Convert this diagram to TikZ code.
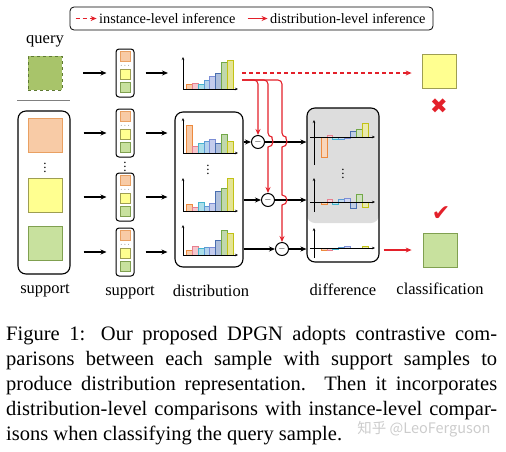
\documentclass[tikz,border=0pt]{standalone}
\usepackage{fontspec}
\setmainfont{Liberation Serif}
\newfontfamily\cjkfont{Noto Sans CJK SC}
\newfontfamily\symfont{DejaVu Sans}
\usetikzlibrary{arrows.meta}

\definecolor{dpred}{HTML}{E3202A}
\definecolor{orgF}{HTML}{F8CBA6}
\definecolor{orgD}{HTML}{E9A062}
\definecolor{yelF}{HTML}{FFFF90}
\definecolor{yelD}{HTML}{9E9E52}
\definecolor{grnF}{HTML}{C8E19E}
\definecolor{grnD}{HTML}{80A050}
\definecolor{qryF}{HTML}{A8C46A}
\definecolor{qryD}{HTML}{5F7A32}
\definecolor{bar1}{HTML}{ED8A3E}
\definecolor{bar2}{HTML}{E8808F}
\definecolor{bar3}{HTML}{45B5CF}
\definecolor{bar4}{HTML}{5B9BD5}
\definecolor{bar5}{HTML}{7C8ED6}
\definecolor{bar6}{HTML}{4A6FB0}
\definecolor{bar7}{HTML}{72A848}
\definecolor{bar8}{HTML}{C2C214}

\begin{document}
\begin{tikzpicture}[x=1pt, y=1pt,
  sample/.style={draw, minimum size=34pt, inner sep=0pt, line width=0.8pt},
  mini/.style={draw, minimum size=10pt, inner sep=0pt, line width=0.6pt},
  stack/.style={draw, rounded corners=3pt, line width=1pt, minimum width=18pt,
    minimum height=48pt, inner sep=0pt},
  group/.style={draw, rounded corners=8pt, line width=1.1pt, inner sep=0pt},
  arr/.style={-{Stealth[length=6pt, width=5pt]}, line width=1.2pt},
  redarr/.style={-{Stealth[length=6pt, width=5pt]}, line width=1.1pt, draw=dpred},
  axis/.style={-{Stealth[length=3pt, width=2.5pt]}, line width=0.6pt},
  diffop/.style={draw, circle, minimum size=13pt, inner sep=0pt, line width=1pt,
    font=\small},
  vdot/.style={inner sep=0pt, font=\fontsize{13}{13}\selectfont},
  lbl/.style={font=\fontsize{16.5}{18}\selectfont},
  legtxt/.style={font=\fontsize{14.3}{16}\selectfont, inner sep=0pt}
]
\useasboundingbox (0,0) rectangle (506,-451);

% legend
\node[draw, rounded corners=4pt, line width=0.8pt, minimum width=363pt,
  minimum height=23pt, inner sep=0pt] (legend) at (251.5,-18.5) {};
\draw[redarr, dashed, dash pattern=on 4pt off 3pt] ([xshift=6pt]legend.west) -- ++(21,0);
\node[legtxt, anchor=west] (lg1) at (99,-18.5) {instance-level inference};
\draw[redarr] ([xshift=12pt]lg1.east) -- ++(20,0);
\node[legtxt, anchor=west] (lg2) at (270,-18.5) {distribution-level inference};

% query and support images
\node[lbl] (querylbl) at (45,-41) {query};
\node[sample, fill=qryF, draw=qryD, dashed] (query) at (45,-73) {};
\draw[gray, line width=1pt] (17,-100) -- (70,-100);
\node[group, minimum width=52pt, minimum height=163pt] (supbox) at (44,-192.5) {};
\node[sample, fill=orgF, draw=orgD] (sa) at (45,-135) {};
\node[vdot] (supdots) at (45,-165) {$\vdots$};
\node[sample, fill=yelF, draw=yelD] (sb) at (45,-195) {};
\node[sample, fill=grnF, draw=grnD] (sc) at (45,-243) {};
\node[lbl] (suplbl1) at (45,-291) {support};

% support stacks
\foreach \n/\cy in {s0/73, s1/133, s2/197, s3/252} {
  \node[stack] (\n) at (125,-\cy) {};
  \node[mini, fill=orgF, draw=orgD] (\n-o) at (125,-\cy+16.5) {};
  \node[font=\scriptsize, inner sep=0pt] (\n-d) at (125,-\cy+7.5) {$\cdots$};
  \node[mini, fill=yelF, draw=yelD] (\n-y) at (125,-\cy-1) {};
  \node[mini, fill=grnF, draw=grnD] (\n-g) at (125,-\cy-14) {};
}
\node[vdot] (stkdots) at (125,-164) {$\vdots$};
\node[lbl] (suplbl2) at (130,-293) {support};

\draw[arr, shorten <=21pt, shorten >=9pt] (query.east) -- (s0.west);
\foreach \n in {s1,s2,s3}
  \draw[arr, shorten <=13pt, shorten >=9pt] (supbox.east |- \n) -- (\n.west);

% distributions
\node[group, minimum width=68pt, minimum height=155pt] (distbox) at (209,-189.5) {};
\foreach \h/\oy/\ax/\vals in {hq/89/32/{5,6,5,9,13,16,27,29},
    h1/153/35/{28,7,10,12,14,10,19,12},
    h2/211/33/{7,4,9,5,8,20,23,33},
    h3/255/30/{5,9,7,8,8,15,25,22}} {
  \coordinate (\h) at (183,-\oy);
  \foreach \v [count=\i] in \vals
    \draw[fill=bar\i!45, draw=bar\i, line width=0.6pt]
      ([xshift={3.5+5.8*(\i-1)}]\h) rectangle ++(5.8,\v);
  \draw[axis] (\h) -- ++(0,\ax);
  \draw[axis] (\h) -- ++(55,0);
}
\node[vdot] (distdots) at (208,-167) {$\vdots$};
\node[lbl] (distlbl) at (211,-291) {distribution};

\draw[arr, shorten <=11pt, shorten >=15pt] (s0.east) -- (s0.east -| hq);
\foreach \n in {s1,s2,s3}
  \draw[arr, shorten <=11pt, shorten >=7pt] (\n.east) -- (\n.east -| distbox.west);

% differences
\node[group, minimum width=72pt, minimum height=154pt,
  path picture={\fill[gray!27] (path picture bounding box.north west)
    rectangle ([yshift=39pt]path picture bounding box.south east);}]
  (diffbox) at (343,-185) {};
\foreach \h/\oy/\up/\dn/\vals in {d1/137/17/28/{-20,2,-2,-2,-1,6,8,14},
    d2/202/24/10/{-2,3,-2,3,4,-6,8,-5},
    d3/248/20/10/{-2,-2,-1,1,2,0,0,2}} {
  \coordinate (\h) at (314,-\oy);
  \foreach \v [count=\i] in \vals
    \draw[fill=bar\i!35, draw=bar\i, line width=0.8pt]
      ([xshift={7+5.9*(\i-1)}]\h) rectangle ++(5.9,\v);
  \draw[axis] ([yshift={-\dn}]\h) -- ++(0,\up+\dn);
  \draw[axis] ([xshift=-4pt]\h) -- ++(65,0);
}
\node[vdot] (diffdots) at (343,-171) {$\vdots$};
\node[lbl] (difflbl) at (343,-290) {difference};

% subtraction
\node[diffop] (m1) at (258,-142) {$-$};
\node[diffop] (m2) at (268,-200) {$-$};
\node[diffop] (m3) at (282,-249) {$-$};
\foreach \m in {m1,m2,m3} {
  \draw[arr] (distbox.east |- \m) -- (\m);
  \draw[arr] (\m) -- (diffbox.west |- \m);
}

% inference paths
\coordinate (qout) at (242,-80);
\coordinate (qdash) at (242,-73);
\draw[redarr, rounded corners=4pt] (qout) -| (m1.north);
\draw[redarr] (qout) [rounded corners=4pt] -| ([yshift=5pt]m2.north |- m1.center)
  [sharp corners] arc[start angle=90, end angle=-90, radius=5pt] -- (m2.north);
\draw[redarr] (qout) [rounded corners=4pt] -| ([yshift=5pt]m3.north |- m1.center)
  [sharp corners] arc[start angle=90, end angle=-90, radius=5pt]
  -- ([yshift=5pt]m3.north |- m2.center)
  arc[start angle=90, end angle=-90, radius=5pt] -- (m3.north);

% classification
\node[sample, fill=yelF, draw=yelD] (ysq) at (439,-71) {};
\node[text=dpred, font=\symfont\fontsize{21}{21}\selectfont] (cross) at (439,-106) {✖};
\node[sample, fill=grnF, draw=grnD] (gsq) at (440,-250) {};
\node[text=dpred, font=\symfont\fontsize{22}{22}\selectfont] (tick) at (441,-214) {✔};
\node[lbl] (clslbl) at (440,-289) {classification};

\draw[redarr, dashed, dash pattern=on 4pt off 3pt, shorten >=10pt] (qdash) -- (qdash -| ysq.west);
\draw[redarr, shorten <=4pt, shorten >=11pt] (diffbox.east |- gsq) -- (gsq.west);

% caption
\node[anchor=north west, inner sep=0pt, text width=491pt, align=justify,
  font=\fontsize{20.5}{25}\selectfont] (caption) at (6,-326) {Figure 1: Our proposed DPGN adopts contrastive com-\linebreak
parisons between each sample with support samples to\linebreak
produce distribution representation.  Then it incorporates\linebreak
distribution-level comparisons with instance-level compar-\linebreak
isons when classifying the query sample.};
\node[text=gray!40, inner sep=0pt, font=\cjkfont\fontsize{14.5}{14.5}\selectfont] (mark) at (424,-429) {知乎 @LeoFerguson};
\end{tikzpicture}
\end{document}
